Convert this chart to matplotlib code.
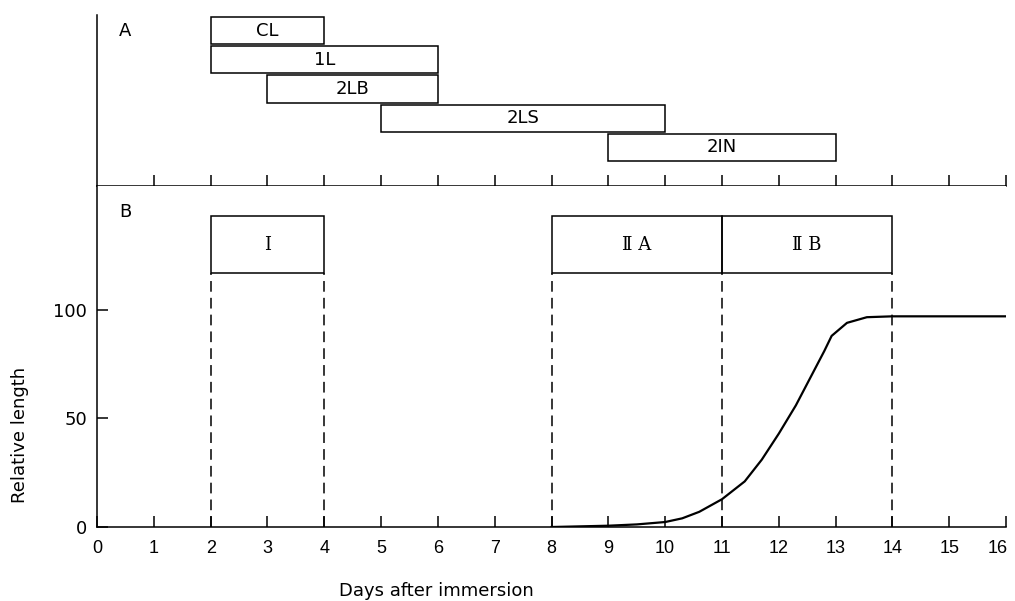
import matplotlib
matplotlib.use("Agg")
import matplotlib.pyplot as plt
from matplotlib.patches import Rectangle
from matplotlib.transforms import ScaledTranslation

plt.rcParams['font.family'] = ['DejaVu Sans']
plt.rcParams['font.size'] = 13

# 패널 A: 기관별 발달 구간 (시작일, 종료일)
organ_labels = ["CL", "1L", "2LB", "2LS", "2IN"]
organ_start = [2, 2, 3, 5, 9]
organ_end = [4, 6, 6, 10, 13]

# 패널 B: 단계 구간
phase_labels = ["Ⅰ", "Ⅱ A", "Ⅱ B"]
phase_start = [2, 8, 11]
phase_end = [4, 11, 14]

# 패널 B: 상대 길이 곡선
days = [8.0, 8.5, 9.0, 9.5, 10.0, 10.3, 10.6, 11.0, 11.4, 11.7, 12.0,
        12.3, 12.6, 12.8, 12.93, 13.2, 13.55, 14.0, 16.0]
rel_length = [0.0, 0.3, 0.6, 1.2, 2.3, 4.0, 7.0, 12.8, 21.0, 31.0, 43.0,
              56.0, 71.0, 81.0, 88.0, 94.0, 96.6, 97.0, 97.0]

day_ticks = list(range(0, 17))

fig = plt.figure(figsize=(10.15, 6.01), dpi=100)
axA = fig.add_axes([0.0956, 0.6905, 0.8956, 0.2845])
axB = fig.add_axes([0.0956, 0.1231, 0.8956, 0.5674])

lw = 1.1

# ----- 패널 A -----
axA.set_xlim(0, 16)
axA.set_ylim(0, 5.8)
n = len(organ_labels)
for i, (lab, s, e) in enumerate(zip(organ_labels, organ_start, organ_end)):
    y0 = 0.85 + (n - 1 - i) * 0.99
    axA.add_patch(Rectangle((s, y0), e - s, 0.92, fill=False, lw=lw, ec="black"))
    axA.text((s + e) / 2, y0 + 0.46, lab, ha="center", va="center", fontsize=13)
axA.text(0.5, 5.25, "A", ha="center", va="center", fontsize=13)
axA.spines["top"].set_visible(False)
axA.spines["right"].set_visible(False)
axA.spines["left"].set_linewidth(lw)
axA.spines["bottom"].set_linewidth(lw)
axA.set_xticks(day_ticks[1:])
axA.set_xticklabels([])
axA.set_yticks([])
axA.tick_params(axis="x", direction="in", length=8, width=lw)

# ----- 패널 B -----
axB.set_xlim(0, 16)
axB.set_ylim(0, 157)
box_lo, box_hi = 117, 143
for lab, s, e in zip(phase_labels, phase_start, phase_end):
    axB.add_patch(Rectangle((s, box_lo), e - s, box_hi - box_lo, fill=False, lw=lw, ec="black"))
    axB.text((s + e) / 2, (box_lo + box_hi) / 2, lab, ha="center", va="center",
             fontsize=13, family=["DejaVu Serif"])
for x in sorted(set(phase_start + phase_end)):
    axB.plot([x, x], [0, box_lo], ls=(0, (7, 4)), color="black", lw=lw)

axB.plot(days, rel_length, color="black", lw=1.6)
axB.text(0.5, 145, "B", ha="center", va="center", fontsize=13)

axB.spines["top"].set_visible(False)
axB.spines["right"].set_visible(False)
axB.spines["left"].set_linewidth(lw)
axB.spines["bottom"].set_linewidth(lw)
axB.set_xticks(day_ticks)
axB.set_yticks([0, 50, 100])
axB.tick_params(axis="x", direction="in", length=8, width=lw, pad=9, labelsize=13)
axB.tick_params(axis="y", direction="in", length=8, width=lw, pad=7, labelsize=13)
for lab in axB.get_xticklabels():
    lab.set_family(["Liberation Sans"])
# 마지막 눈금 라벨(16)이 그림 밖으로 잘리지 않도록 약간 왼쪽으로 이동
last = axB.get_xticklabels()[-1]
last.set_transform(last.get_transform() + ScaledTranslation(-6 / 72, 0, fig.dpi_scale_trans))
axB.set_ylabel("Relative length", fontsize=13)
axB.yaxis.set_label_coords(-0.075, 0.27)
axB.set_xlabel("Days after immersion", fontsize=13)
axB.xaxis.set_label_coords((436 - 97) / 909, -0.16)

fig.savefig("out.png", dpi=100)
